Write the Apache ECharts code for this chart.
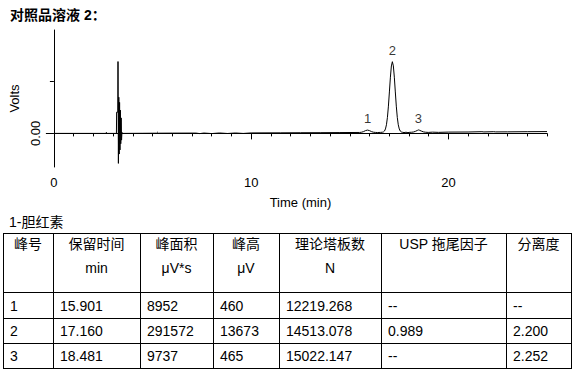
<!DOCTYPE html>
<html><head><meta charset="utf-8">
<script src="https://cdn.jsdelivr.net/npm/echarts@6/dist/echarts.min.js"></script>
<style>html,body{margin:0;padding:0;background:#fff}#c{width:577px;height:373px}</style>
</head><body><div id="c"></div>
<script>
// ---- chromatogram trace: [time (min), signal (V)] ----
const signal = [
  [0,0],[1.0,0],[2.0,0],[2.62,0],[2.66,0.0002],[2.70,0],[3.10,0],
  [3.17,0],[3.18,0.0041],[3.24,0.0041],[3.25,0.0139],[3.27,-0.0058],[3.29,0.0070],[3.31,-0.0040],
  [3.33,0.0060],[3.35,-0.0032],[3.37,0.0045],[3.39,-0.0020],[3.41,0.0030],[3.43,-0.0013],[3.45,0.0002],
  [3.50,0],[4.5,0.00002],[5.2,0.00004],[5.25,0.00022],[5.30,0.00004],[6.0,0.00005],[7.2,0.00006],
  [7.4,-0.00004],[7.6,0.00007],[8.0,-0.00003],[8.4,0.00008],[8.8,-0.00002],[9.2,0.00008],[9.6,-0.00001],
  [10.0,0.00009],[10.5,0.0001],[11.5,0.00011],[12.5,0.00013],[13.5,0.00014],[14.5,0.00016],[15.5,0.00018],
  [15.60,0.00023],[15.70,0.00035],[15.80,0.00054],[15.90,0.00064],[16.00,0.00054],[16.10,0.00035],
  [16.20,0.00023],[16.30,0.00019],[16.40,0.00017],[16.55,0.00019],
  [16.66,0.00023],[16.71,0.00029],[16.76,0.00046],[16.81,0.00086],[16.86,0.00167],[16.91,0.00310],
  [16.96,0.00527],[17.01,0.00802],[17.06,0.01087],[17.11,0.01305],[17.16,0.01387],[17.21,0.01305],
  [17.26,0.01087],[17.31,0.00802],[17.36,0.00527],[17.41,0.00310],[17.46,0.00167],[17.51,0.00086],
  [17.56,0.00046],[17.61,0.00029],[17.66,0.00023],
  [17.75,0.00016],[17.85,0.00022],[17.95,0.00015],[18.05,0.00021],
  [18.13,0.00022],[18.23,0.00027],[18.33,0.00040],[18.43,0.00058],[18.48,0.00067],[18.53,0.00062],
  [18.63,0.00045],[18.73,0.00030],[18.83,0.00023],[18.98,0.00019],
  [19.2,0.00024],[19.5,0.0002],[20,0.00025],[21,0.00027],[21.7,0.00033],[21.8,0.00028],
  [22.3,0.00033],[22.4,0.00029],[23,0.0003],[24,0.00033],[25,0.00035]
];

// ---- peak table ----
const headerLine1 = ['峰号','保留时间','峰面积','峰高','理论塔板数','USP 拖尾因子','分离度'];
const headerLine2 = ['','min','μV*s','μV','N','',''];
const peakNo     = ['1','2','3'];
const retTime    = ['15.901','17.160','18.481'];
const peakArea   = ['8952','291572','9737'];
const peakHeight = ['460','13673','465'];
const plates     = ['12219.268','14513.078','15022.147'];
const tailing    = ['--','0.989','--'];
const resolution = ['--','2.200','2.252'];

// ---- axis ticks ----
const xLabelTicks = [0,10,20];
const yLabelTicks = [0];
const yMinorTicks = [0.01];

const BASE = 0.0002; // baseline offset under the peaks (V)
const FONT = '"Liberation Sans", Arial, "Noto Sans CJK SC", sans-serif';

const chart = echarts.init(document.getElementById('c'), null, {renderer:'svg'});

// table graphics
const colX = [3, 53, 140, 213, 279, 381, 506, 571];
const rowY = [233, 292, 318, 343, 368];
const g = [];
rowY.forEach(y => g.push({type:'line', shape:{x1:colX[0], y1:y+0.5, x2:colX[colX.length-1]+1, y2:y+0.5}, style:{stroke:'#000', lineWidth:1}}));
colX.forEach(x => g.push({type:'line', shape:{x1:x+0.5, y1:rowY[0], x2:x+0.5, y2:rowY[rowY.length-1]+1}, style:{stroke:'#000', lineWidth:1}}));
const txt = (x, y, s, align, extra) => Object.assign({type:'text', x, y, style:{text:s, fill:'#000', font:'14px '+FONT, textAlign:align||'left', textVerticalAlign:'middle'}}, extra||{});
headerLine1.forEach((h,i) => {
  const cx = (colX[i]+colX[i+1])/2;
  g.push(txt(cx, 244, h, 'center'));
  if (headerLine2[i]) g.push(txt(cx, 268, headerLine2[i], 'center'));
});
const cols = [peakNo, retTime, peakArea, peakHeight, plates, tailing, resolution];
peakNo.forEach((_, r) => {
  const cy = (rowY[r+1]+rowY[r+2])/2 + 0.5;
  cols.forEach((col, c) => g.push(txt(colX[c]+7, cy, col[r], 'left')));
});
g.push({type:'text', x:10, y:15, style:{text:'对照品溶液 2：', fill:'#000', font:'bold 14px '+FONT, textVerticalAlign:'middle'}});
g.push({type:'text', x:9, y:222, style:{text:'1-胆红素', fill:'#000', font:'14px '+FONT, textVerticalAlign:'middle'}});

const axisText = {color:'#000', fontSize:13, fontFamily:FONT};
const yMin = -0.0065, yMax = 0.02;

chart.setOption({
  animation:false,
  backgroundColor:'#fff',
  grid:{left:53, right:30, top:30, bottom:206},
  xAxis:[
    {type:'value', min:0, max:25, interval:1, position:'bottom',
     axisLine:{show:true, lineStyle:{color:'#000', width:1}},
     axisTick:{show:true, length:3, lineStyle:{color:'#000'}},
     axisLabel:{show:false}, splitLine:{show:false}},
    {type:'value', min:0, max:25, position:'bottom',
     axisLine:{show:false},
     axisTick:{show:true, length:6, customValues:xLabelTicks, lineStyle:{color:'#000'}},
     axisLabel:Object.assign({customValues:xLabelTicks, margin:9}, axisText),
     splitLine:{show:false},
     name:'Time (min)', nameLocation:'middle', nameGap:29, nameTextStyle:axisText}
  ],
  yAxis:[
    {type:'value', min:yMin, max:yMax, position:'left',
     axisLine:{show:true, lineStyle:{color:'#000', width:1}},
     axisTick:{show:true, length:8, customValues:yLabelTicks, lineStyle:{color:'#000'}},
     axisLabel:Object.assign({customValues:yLabelTicks, rotate:90, margin:12, formatter:v=>v.toFixed(2)}, axisText),
     splitLine:{show:false},
     name:'Volts', nameLocation:'middle', nameRotate:90, nameGap:30, nameTextStyle:axisText},
    {type:'value', min:yMin, max:yMax, position:'left',
     axisLine:{show:false},
     axisTick:{show:true, length:4, customValues:yMinorTicks, lineStyle:{color:'#000'}},
     axisLabel:{show:false}, splitLine:{show:false}}
  ],
  series:[
    {type:'line', xAxisIndex:0, yAxisIndex:0, data:signal, showSymbol:false, symbol:'none',
     lineStyle:{color:'#000', width:1}, silent:true},
    {type:'scatter', xAxisIndex:0, yAxisIndex:0, symbolSize:0,
     data:peakNo.map((n,i)=>({name:n, value:[parseFloat(retTime[i]), parseFloat(peakHeight[i])/1e6 + BASE]})),
     label:{show:true, position:'top', distance:5, formatter:p=>p.name, color:'#000', fontSize:13, fontFamily:FONT}}
  ],
  graphic:g
});
</script></body></html>
